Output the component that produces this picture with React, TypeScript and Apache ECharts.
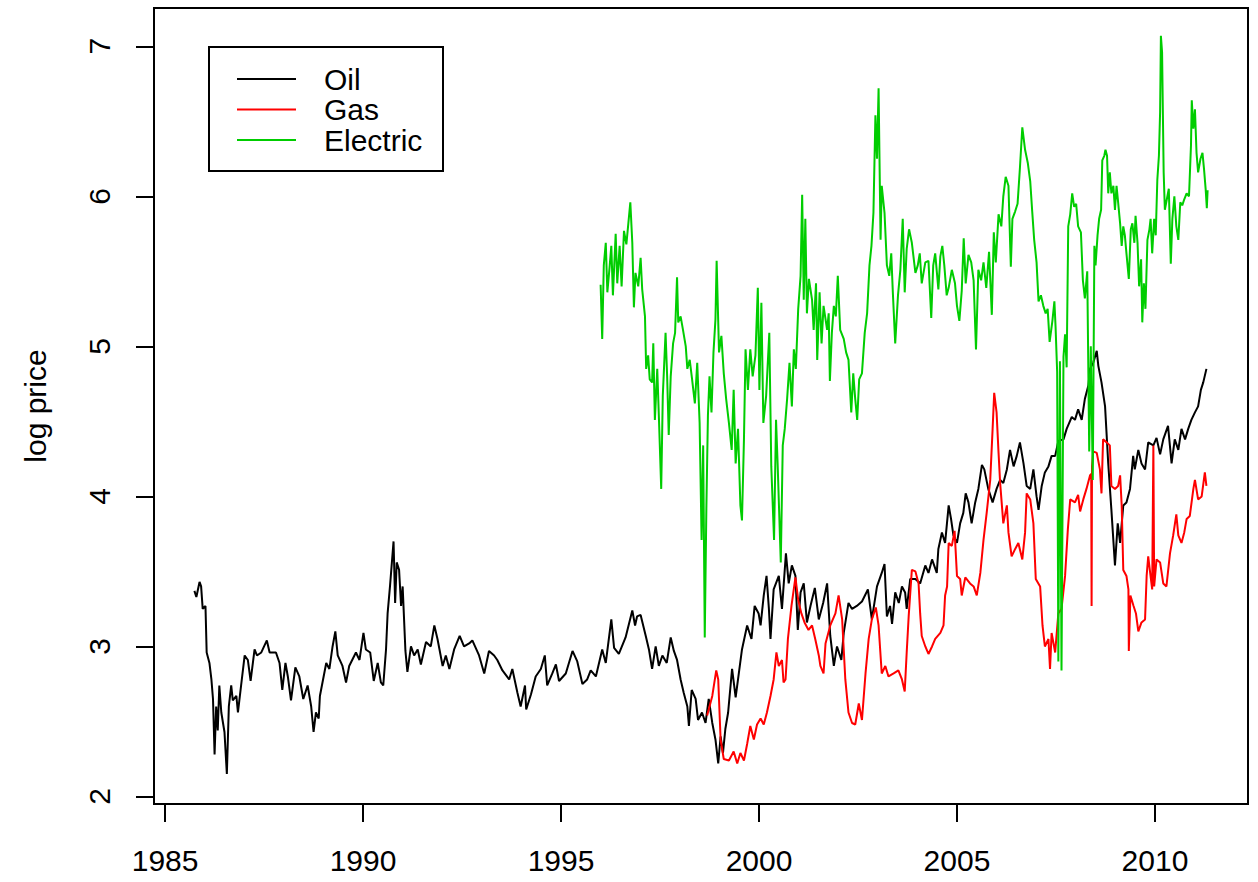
import React, { useEffect, useRef } from "react";
import * as echarts from "echarts";

const FONT = "'Liberation Sans', Arial, Helvetica, sans-serif";

// Axis extents and tick marks (years on x, log price on y)
const X_MIN = 1984.72;
const X_MAX = 2012.35;
const Y_MIN = 1.95;
const Y_MAX = 7.255;
const xTicks = [1985, 1990, 1995, 2000, 2005, 2010];
const yTicks = [2, 3, 4, 5, 6, 7];

const seriesNames = ["Oil", "Gas", "Electric"];
const seriesColors = ["#000000", "#FF0000", "#00CD00"];

// Oil: decimal year / log price
const oilYears = [
  1985.74, 1985.79, 1985.87, 1985.91, 1985.95, 1986.02, 1986.05, 1986.12, 1986.17, 1986.21,
  1986.25, 1986.29, 1986.33, 1986.37, 1986.42, 1986.5, 1986.56, 1986.61, 1986.67, 1986.71,
  1986.8, 1986.84, 1986.92, 1987.01, 1987.09, 1987.16, 1987.26, 1987.32, 1987.43, 1987.57,
  1987.64, 1987.8, 1987.89, 1987.96, 1988.04, 1988.1, 1988.18, 1988.29, 1988.39, 1988.49,
  1988.6, 1988.69, 1988.75, 1988.81, 1988.88, 1988.91, 1989.07, 1989.15, 1989.23, 1989.3,
  1989.36, 1989.48, 1989.57, 1989.65, 1989.82, 1989.91, 1990.01, 1990.07, 1990.18, 1990.27,
  1990.37, 1990.45, 1990.51, 1990.58, 1990.62, 1990.68, 1990.77, 1990.81, 1990.85, 1990.91,
  1990.96, 1991.0, 1991.07, 1991.12, 1991.21, 1991.29, 1991.38, 1991.46, 1991.59, 1991.71,
  1991.8, 1991.88, 1992.01, 1992.09, 1992.18, 1992.3, 1992.44, 1992.55, 1992.68, 1992.76,
  1992.93, 1993.06, 1993.18, 1993.31, 1993.39, 1993.52, 1993.69, 1993.77, 1993.9, 1993.98,
  1994.09, 1994.12, 1994.24, 1994.36, 1994.49, 1994.59, 1994.65, 1994.78, 1994.87, 1994.95,
  1995.12, 1995.29, 1995.41, 1995.54, 1995.66, 1995.75, 1995.88, 1996.04, 1996.13, 1996.27,
  1996.34, 1996.46, 1996.63, 1996.8, 1996.87, 1996.92, 1997.01, 1997.14, 1997.22, 1997.3,
  1997.39, 1997.47, 1997.56, 1997.67, 1997.77, 1997.85, 1997.93, 1998.02, 1998.1, 1998.19,
  1998.23, 1998.3, 1998.4, 1998.46, 1998.56, 1998.65, 1998.73, 1998.82, 1998.9, 1998.97,
  1999.03, 1999.09, 1999.15, 1999.22, 1999.32, 1999.41, 1999.49, 1999.57, 1999.7, 1999.81,
  1999.89, 1999.99, 2000.04, 2000.12, 2000.19, 2000.25, 2000.29, 2000.37, 2000.5, 2000.58,
  2000.68, 2000.75, 2000.83, 2000.92, 2000.98, 2001.05, 2001.13, 2001.21, 2001.3, 2001.41,
  2001.51, 2001.62, 2001.72, 2001.8, 2001.89, 2001.97, 2002.08, 2002.14, 2002.26, 2002.35,
  2002.47, 2002.6, 2002.75, 2002.85, 2002.98, 2003.1, 2003.17, 2003.23, 2003.31, 2003.36,
  2003.44, 2003.53, 2003.61, 2003.69, 2003.73, 2003.82, 2003.95, 2004.07, 2004.2, 2004.28,
  2004.37, 2004.49, 2004.53, 2004.62, 2004.7, 2004.79, 2004.85, 2004.91, 2005.0, 2005.08,
  2005.16, 2005.22, 2005.29, 2005.37, 2005.46, 2005.54, 2005.63, 2005.69, 2005.79, 2005.9,
  2006.0, 2006.09, 2006.17, 2006.26, 2006.34, 2006.43, 2006.51, 2006.59, 2006.68, 2006.76,
  2006.85, 2006.93, 2007.01, 2007.06, 2007.14, 2007.22, 2007.31, 2007.39, 2007.48, 2007.56,
  2007.69, 2007.77, 2007.9, 2007.98, 2008.06, 2008.15, 2008.23, 2008.32, 2008.36, 2008.44,
  2008.53, 2008.57, 2008.65, 2008.74, 2008.82, 2008.9, 2008.99, 2009.06, 2009.12, 2009.2,
  2009.28, 2009.37, 2009.45, 2009.49, 2009.58, 2009.66, 2009.75, 2009.83, 2009.96, 2010.04,
  2010.13, 2010.21, 2010.33, 2010.42, 2010.5, 2010.59, 2010.67, 2010.76, 2010.84, 2010.92,
  2011.01, 2011.09, 2011.16, 2011.22, 2011.3,
];
const oilValues = [
  3.37, 3.33, 3.43, 3.4, 3.25, 3.27, 2.96, 2.89, 2.78, 2.65,
  2.28, 2.6, 2.44, 2.74, 2.56, 2.43, 2.15, 2.6, 2.74, 2.64,
  2.67, 2.56, 2.74, 2.94, 2.91, 2.77, 2.98, 2.94, 2.96, 3.04,
  2.96, 2.96, 2.89, 2.71, 2.89, 2.8, 2.64, 2.86, 2.8, 2.65,
  2.74, 2.6, 2.43, 2.56, 2.52, 2.67, 2.89, 2.85, 3.0, 3.1,
  2.94, 2.87, 2.76, 2.87, 2.96, 2.91, 3.09, 2.98, 2.96, 2.77,
  2.89, 2.76, 2.74, 2.98, 3.22, 3.4, 3.7, 3.29, 3.56, 3.51,
  3.27, 3.4, 2.97, 2.83, 3.0, 2.94, 2.98, 2.88, 3.03, 3.0,
  3.14, 3.05, 2.87, 2.94, 2.85, 2.98, 3.07, 3.0, 3.02, 3.04,
  2.94, 2.82, 2.97, 2.94, 2.91, 2.84, 2.78, 2.85, 2.69, 2.6,
  2.74, 2.58, 2.68, 2.8, 2.85, 2.94, 2.74, 2.82, 2.88, 2.77,
  2.82, 2.97, 2.9, 2.75, 2.78, 2.84, 2.8, 2.98, 2.89, 3.18,
  2.99, 2.95, 3.06, 3.24, 3.14, 3.2, 3.21, 3.07, 2.98, 2.85,
  3.0, 2.87, 2.94, 2.89, 3.06, 2.97, 2.91, 2.78, 2.69, 2.6,
  2.47, 2.71, 2.65, 2.51, 2.56, 2.49, 2.65, 2.49, 2.38, 2.22,
  2.4, 2.29, 2.45, 2.56, 2.85, 2.66, 2.82, 2.98, 3.14, 3.05,
  3.27, 3.22, 3.14, 3.34, 3.47, 3.25, 3.05, 3.38, 3.47, 3.25,
  3.62, 3.42, 3.54, 3.47, 3.11, 3.36, 3.42, 3.16, 3.27, 3.39,
  3.18, 3.29, 3.42, 3.07, 2.87, 3.0, 2.91, 3.09, 3.29, 3.25,
  3.27, 3.3, 3.38, 3.18, 3.4, 3.49, 3.55, 3.2, 3.27, 3.15,
  3.36, 3.29, 3.4, 3.36, 3.25, 3.45, 3.45, 3.42, 3.54, 3.49,
  3.58, 3.49, 3.65, 3.76, 3.69, 3.94, 3.85, 3.74, 3.69, 3.82,
  3.89, 4.02, 3.96, 3.82, 3.96, 4.05, 4.21, 4.18, 4.05, 3.96,
  4.05, 4.11, 4.09, 4.18, 4.31, 4.2, 4.27, 4.36, 4.22, 4.07,
  4.05, 4.18, 4.0, 3.91, 4.07, 4.16, 4.2, 4.27, 4.27, 4.37,
  4.38, 4.45, 4.53, 4.51, 4.58, 4.51, 4.65, 4.74, 4.85, 4.89,
  4.97, 4.87, 4.76, 4.6, 4.22, 3.91, 3.54, 3.82, 3.69, 3.94,
  3.96, 4.05, 4.27, 4.18, 4.31, 4.22, 4.18, 4.36, 4.34, 4.39,
  4.28, 4.38, 4.47, 4.22, 4.38, 4.31, 4.45, 4.38, 4.45, 4.51,
  4.56, 4.6, 4.71, 4.76, 4.85,
];

// Gas: decimal year / log price
const gasYears = [
  1998.69, 1998.82, 1998.92, 1998.97, 1999.03, 1999.11, 1999.24, 1999.36, 1999.45, 1999.53,
  1999.62, 1999.7, 1999.78, 1999.87, 1999.95, 2000.04, 2000.12, 2000.2, 2000.29, 2000.37,
  2000.44, 2000.5, 2000.58, 2000.62, 2000.67, 2000.73, 2000.82, 2000.92, 2000.99, 2001.07,
  2001.15, 2001.25, 2001.34, 2001.42, 2001.51, 2001.55, 2001.63, 2001.68, 2001.8, 2001.93,
  2002.01, 2002.1, 2002.18, 2002.26, 2002.35, 2002.43, 2002.52, 2002.6, 2002.69, 2002.77,
  2002.85, 2002.95, 2003.02, 2003.1, 2003.19, 2003.27, 2003.4, 2003.52, 2003.61, 2003.68,
  2003.73, 2003.78, 2003.86, 2003.95, 2004.03, 2004.07, 2004.11, 2004.2, 2004.28, 2004.37,
  2004.45, 2004.58, 2004.66, 2004.7, 2004.75, 2004.79, 2004.87, 2004.94, 2005.0, 2005.08,
  2005.12, 2005.21, 2005.33, 2005.42, 2005.5, 2005.59, 2005.67, 2005.75, 2005.84, 2005.9,
  2005.94, 2006.0, 2006.05, 2006.09, 2006.17, 2006.26, 2006.3, 2006.38, 2006.47, 2006.55,
  2006.65, 2006.72, 2006.76, 2006.85, 2006.93, 2006.99, 2007.1, 2007.16, 2007.22, 2007.31,
  2007.35, 2007.39, 2007.48, 2007.56, 2007.64, 2007.73, 2007.8, 2007.86, 2007.98, 2008.06,
  2008.11, 2008.19, 2008.27, 2008.36, 2008.39, 2008.4, 2008.41, 2008.44, 2008.53, 2008.61,
  2008.65, 2008.69, 2008.78, 2008.86, 2008.9, 2008.99, 2009.07, 2009.12, 2009.16, 2009.2,
  2009.28, 2009.33, 2009.34, 2009.38, 2009.46, 2009.52, 2009.58, 2009.66, 2009.75, 2009.79,
  2009.83, 2009.87, 2009.93, 2009.96, 2009.98, 2010.04, 2010.13, 2010.21, 2010.29, 2010.38,
  2010.46, 2010.54, 2010.59, 2010.67, 2010.74, 2010.8, 2010.88, 2010.97, 2011.01, 2011.09,
  2011.18, 2011.26, 2011.3,
];
const gasValues = [
  2.54, 2.67, 2.84, 2.78, 2.38, 2.25, 2.24, 2.3, 2.22, 2.29,
  2.24, 2.35, 2.47, 2.38, 2.48, 2.52, 2.48, 2.56, 2.67, 2.78,
  2.96, 2.87, 2.91, 2.76, 2.78, 3.05, 3.27, 3.46, 3.31, 3.22,
  3.16, 3.11, 3.14, 3.05, 2.94, 2.87, 2.82, 3.02, 3.14, 3.22,
  3.34, 3.18, 2.78, 2.56, 2.49, 2.48, 2.62, 2.51, 2.82, 3.05,
  3.18, 3.26, 3.14, 2.82, 2.87, 2.8, 2.82, 2.84, 2.78, 2.7,
  2.96, 3.2, 3.51, 3.5, 3.42, 3.22, 3.07, 3.0, 2.95, 3.0,
  3.05, 3.09, 3.14, 3.34, 3.4, 3.69, 3.67, 3.77, 3.47, 3.45,
  3.34, 3.46, 3.42, 3.4, 3.34, 3.49, 3.71, 3.89, 4.11, 4.45,
  4.69, 4.56, 4.29, 4.09, 3.82, 3.94, 3.76, 3.6, 3.65, 3.69,
  3.58, 3.76, 4.02, 3.98, 3.82, 3.45, 3.4, 3.14, 3.0, 3.05,
  2.85, 3.09, 2.96, 3.22, 3.25, 3.47, 3.78, 3.98, 3.96, 4.01,
  3.9, 3.98, 4.05, 4.14, 4.15, 3.27, 4.2, 4.3, 4.29, 4.18,
  4.02, 4.38, 4.36, 4.34, 4.07, 4.05, 4.07, 4.14, 3.94, 3.51,
  3.47, 3.38, 2.97, 3.34, 3.27, 3.22, 3.1, 3.16, 3.18, 3.47,
  3.6, 3.51, 3.38, 4.34, 3.4, 3.58, 3.56, 3.42, 3.4, 3.62,
  3.74, 3.88, 3.74, 3.69, 3.76, 3.85, 3.87, 4.05, 4.11, 3.98,
  4.0, 4.16, 4.07,
];

// Electric: decimal year / log price
const electricYears = [
  1996.0, 1996.04, 1996.08, 1996.13, 1996.17, 1996.23, 1996.27, 1996.31, 1996.38, 1996.42,
  1996.48, 1996.53, 1996.59, 1996.65, 1996.7, 1996.75, 1996.8, 1996.84, 1996.88, 1996.95,
  1997.01, 1997.05, 1997.12, 1997.15, 1997.2, 1997.24, 1997.3, 1997.33, 1997.37, 1997.43,
  1997.47, 1997.53, 1997.57, 1997.64, 1997.68, 1997.72, 1997.77, 1997.83, 1997.88, 1997.93,
  1997.96, 1998.02, 1998.08, 1998.15, 1998.19, 1998.25, 1998.31, 1998.38, 1998.44, 1998.5,
  1998.55, 1998.59, 1998.63, 1998.67, 1998.71, 1998.75, 1998.8, 1998.85, 1998.9, 1998.93,
  1998.99, 1999.05, 1999.11, 1999.17, 1999.24, 1999.31, 1999.36, 1999.41, 1999.47, 1999.53,
  1999.57, 1999.62, 1999.66, 1999.72, 1999.78, 1999.84, 1999.91, 1999.97, 2000.01, 2000.06,
  2000.11, 2000.18, 2000.26, 2000.31, 2000.38, 2000.43, 2000.47, 2000.55, 2000.6, 2000.65,
  2000.71, 2000.77, 2000.83, 2000.88, 2000.93, 2000.99, 2001.05, 2001.09, 2001.13, 2001.17,
  2001.21, 2001.26, 2001.34, 2001.38, 2001.44, 2001.47, 2001.53, 2001.58, 2001.63, 2001.72,
  2001.76, 2001.79, 2001.84, 2001.89, 2001.94, 2001.99, 2002.05, 2002.14, 2002.2, 2002.26,
  2002.33, 2002.38, 2002.43, 2002.48, 2002.53, 2002.6, 2002.67, 2002.73, 2002.79, 2002.84,
  2002.89, 2002.94, 2002.98, 2003.02, 2003.07, 2003.1, 2003.17, 2003.23, 2003.29, 2003.34,
  2003.38, 2003.44, 2003.51, 2003.57, 2003.63, 2003.68, 2003.73, 2003.79, 2003.86, 2003.95,
  2004.01, 2004.06, 2004.11, 2004.2, 2004.28, 2004.35, 2004.4, 2004.45, 2004.53, 2004.58,
  2004.63, 2004.68, 2004.74, 2004.79, 2004.87, 2004.95, 2005.0, 2005.06, 2005.12, 2005.17,
  2005.22, 2005.29, 2005.36, 2005.42, 2005.48, 2005.54, 2005.61, 2005.67, 2005.74, 2005.81,
  2005.88, 2005.93, 2005.98, 2006.05, 2006.12, 2006.17, 2006.23, 2006.3, 2006.36, 2006.4,
  2006.47, 2006.53, 2006.59, 2006.65, 2006.72, 2006.79, 2006.85, 2006.9, 2006.95, 2007.01,
  2007.06, 2007.12, 2007.18, 2007.24, 2007.29, 2007.34, 2007.41, 2007.46, 2007.49, 2007.53,
  2007.56, 2007.6, 2007.64, 2007.69, 2007.73, 2007.77, 2007.81, 2007.86, 2007.91, 2007.96,
  2008.01, 2008.06, 2008.13, 2008.18, 2008.23, 2008.29, 2008.34, 2008.38, 2008.43, 2008.47,
  2008.5, 2008.55, 2008.59, 2008.64, 2008.67, 2008.72, 2008.75, 2008.79, 2008.82, 2008.86,
  2008.9, 2008.95, 2008.99, 2009.03, 2009.07, 2009.12, 2009.16, 2009.2, 2009.24, 2009.28,
  2009.34, 2009.39, 2009.43, 2009.48, 2009.51, 2009.56, 2009.6, 2009.65, 2009.68, 2009.72,
  2009.76, 2009.81, 2009.86, 2009.89, 2009.93, 2009.98, 2010.02, 2010.06, 2010.1, 2010.13,
  2010.15, 2010.18, 2010.22, 2010.25, 2010.3, 2010.35, 2010.4, 2010.44, 2010.49, 2010.54,
  2010.59, 2010.64, 2010.69, 2010.74, 2010.8, 2010.86, 2010.91, 2010.93, 2010.97, 2011.01,
  2011.05, 2011.09, 2011.15, 2011.2, 2011.24, 2011.28, 2011.31, 2011.33,
];
const electricValues = [
  5.41, 5.05, 5.54, 5.69, 5.36, 5.54, 5.67, 5.34, 5.75, 5.42,
  5.67, 5.4, 5.77, 5.68, 5.82, 5.96, 5.69, 5.26, 5.49, 5.4,
  5.59, 5.38, 5.2, 4.85, 4.94, 4.78, 4.76, 5.02, 4.51, 4.85,
  4.54, 4.05, 4.67, 5.09, 4.8, 4.41, 4.8, 5.02, 5.09, 5.46,
  5.16, 5.2, 5.11, 5.0, 4.85, 4.91, 4.78, 4.62, 4.89, 4.49,
  3.71, 4.34, 3.06, 3.91, 4.54, 4.8, 4.56, 4.96, 5.18, 5.57,
  4.96, 5.07, 4.82, 4.65, 4.49, 4.31, 4.71, 4.22, 4.45, 3.94,
  3.84, 4.38, 4.98, 4.71, 4.98, 4.8, 4.94, 5.39, 4.71, 5.29,
  4.49, 4.67, 5.09, 4.2, 3.71, 4.51, 4.22, 3.56, 4.34, 4.45,
  4.65, 4.89, 4.6, 4.98, 4.85, 5.25, 5.47, 6.01, 5.31, 5.85,
  5.22, 5.45, 5.31, 5.11, 5.42, 4.91, 5.36, 5.02, 5.27, 5.11,
  5.22, 4.77, 5.09, 5.27, 5.2, 5.47, 5.11, 5.05, 4.96, 4.91,
  4.56, 4.82, 4.65, 4.51, 4.78, 4.82, 5.09, 5.22, 5.54, 5.67,
  5.89, 6.54, 6.25, 6.72, 5.71, 6.07, 5.89, 5.54, 5.47, 5.62,
  5.36, 5.02, 5.34, 5.51, 5.85, 5.36, 5.65, 5.78, 5.69, 5.49,
  5.54, 5.62, 5.42, 5.56, 5.57, 5.19, 5.54, 5.62, 5.38, 5.6,
  5.67, 5.54, 5.34, 5.39, 5.51, 5.42, 5.27, 5.17, 5.37, 5.72,
  5.42, 5.61, 5.56, 5.44, 4.98, 5.51, 5.44, 5.56, 5.39, 5.63,
  5.21, 5.76, 5.56, 5.88, 5.8, 6.0, 6.13, 6.07, 5.53, 5.85,
  5.9, 5.95, 6.19, 6.46, 6.31, 6.22, 6.1, 5.9, 5.71, 5.56,
  5.3, 5.34, 5.27, 5.22, 5.25, 5.03, 5.17, 5.3, 5.13, 4.83,
  2.9, 4.9, 2.84, 4.93, 5.08, 4.86, 5.8, 5.88, 6.02, 5.93,
  5.95, 5.8, 5.76, 5.44, 5.32, 5.5, 4.3, 5.0, 4.11, 5.67,
  5.54, 5.74, 5.85, 5.91, 6.24, 6.27, 6.31, 6.27, 6.02, 6.16,
  6.02, 6.07, 5.91, 6.07, 5.96, 5.82, 5.67, 5.8, 5.74, 5.62,
  5.45, 5.78, 5.82, 5.69, 5.87, 5.69, 5.4, 5.58, 5.16, 5.42,
  5.25, 5.71, 5.78, 5.85, 5.62, 5.85, 5.74, 6.11, 6.27, 6.56,
  7.07, 6.96, 6.16, 5.91, 5.98, 6.05, 5.55, 5.85, 6.0, 5.8,
  5.71, 5.96, 5.94, 5.98, 6.02, 6.0, 6.34, 6.64, 6.45, 6.58,
  6.29, 6.16, 6.25, 6.29, 6.18, 6.05, 5.92, 6.04,
];

const pairs = (xs: number[], ys: number[]) => xs.map((x, i) => [x, ys[i]]);

const seriesData = [
  pairs(oilYears, oilValues),
  pairs(gasYears, gasValues),
  pairs(electricYears, electricValues),
];

export default function App() {
  const ref = useRef<HTMLDivElement>(null);

  useEffect(() => {
    document.body.style.margin = "0";
    const chart = echarts.init(ref.current as HTMLDivElement, null, { renderer: "svg" });

    const legendRows = [79, 109.5, 140];
    const legendGraphics: any[] = [
      {
        type: "rect",
        shape: { x: 209, y: 47, width: 234, height: 124 },
        style: { fill: "#ffffff", stroke: "#000000", lineWidth: 2 },
        z: 100,
      },
    ];
    seriesNames.forEach((name, i) => {
      legendGraphics.push({
        type: "line",
        shape: { x1: 237, y1: legendRows[i], x2: 296, y2: legendRows[i] },
        style: { stroke: seriesColors[i], lineWidth: 2 },
        z: 101,
      });
      legendGraphics.push({
        type: "text",
        x: 324,
        y: legendRows[i],
        style: {
          text: name,
          fontSize: 30,
          fontFamily: FONT,
          fill: "#000000",
          verticalAlign: "middle",
          align: "left",
        },
        z: 101,
      });
    });

    chart.setOption({
      animation: false,
      backgroundColor: "#ffffff",
      grid: {
        left: 154,
        top: 8,
        width: 1094,
        height: 796,
        show: true,
        borderColor: "#000000",
        borderWidth: 2,
        backgroundColor: "transparent",
      },
      xAxis: {
        type: "value",
        min: X_MIN,
        max: X_MAX,
        axisLine: { show: false },
        splitLine: { show: false },
        axisTick: {
          show: true,
          length: 18,
          lineStyle: { color: "#000000", width: 2 },
          customValues: xTicks,
        },
        axisLabel: {
          customValues: xTicks,
          fontSize: 30,
          fontFamily: FONT,
          color: "#000000",
          margin: 41,
          formatter: (v: number) => String(v),
        },
      },
      yAxis: {
        type: "value",
        min: Y_MIN,
        max: Y_MAX,
        name: "log price",
        nameLocation: "middle",
        nameGap: 104,
        nameTextStyle: { fontSize: 30, fontFamily: FONT, color: "#000000" },
        axisLine: { show: false },
        splitLine: { show: false },
        axisTick: {
          show: true,
          length: 18,
          lineStyle: { color: "#000000", width: 2 },
          customValues: yTicks,
        },
        axisLabel: {
          customValues: yTicks,
          rotate: 90,
          fontSize: 30,
          fontFamily: FONT,
          color: "#000000",
          margin: 40,
          formatter: (v: number) => String(v),
        },
      },
      series: seriesNames.map((name, i) => ({
        name,
        type: "line",
        data: seriesData[i],
        showSymbol: false,
        symbol: "none",
        silent: true,
        lineStyle: { color: seriesColors[i], width: 2 },
        itemStyle: { color: seriesColors[i] },
        z: 2 + i,
      })),
      graphic: legendGraphics,
    });

    return () => chart.dispose();
  }, []);

  return <div ref={ref} style={{ width: 1258, height: 882 }} />;
}
